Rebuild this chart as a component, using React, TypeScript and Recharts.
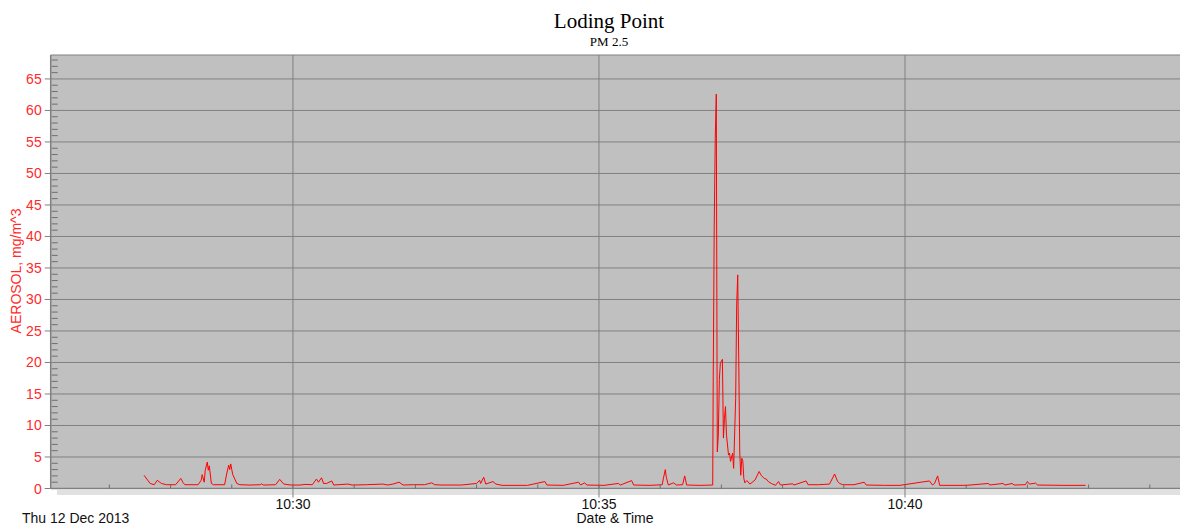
import React from 'react';
import {
  LineChart,
  Line,
  XAxis,
  YAxis,
  CartesianGrid,
} from 'recharts';

// Seconds after 10:00:00 for each logged sample
const sampleSec = [
  1654, 1660, 1664, 1667, 1671, 1676, 1685, 1690, 1692, 1694,
  1707, 1710, 1711, 1713, 1714, 1716, 1717, 1718, 1720, 1722,
  1733, 1735, 1737, 1738, 1739, 1740, 1741, 1745, 1748, 1758,
  1768, 1769, 1771, 1783, 1787, 1791, 1798, 1807, 1812, 1819,
  1823, 1825, 1828, 1830, 1833, 1838, 1840, 1854, 1858, 1872,
  1888, 1893, 1898, 1904, 1908, 1918, 1929, 1936, 1939, 1946,
  1965, 1980, 1983, 1984, 1987, 1989, 1996, 1999, 2005, 2030,
  2047, 2049, 2065, 2080, 2082, 2086, 2088, 2105, 2119, 2121,
  2132, 2134, 2150, 2162, 2163, 2165, 2166, 2168, 2173, 2176,
  2182, 2184, 2186, 2199, 2211.5, 2212, 2213, 2214, 2215, 2215.5,
  2216, 2217, 2218, 2219, 2221, 2222, 2223, 2224, 2225, 2227,
  2228, 2229, 2231, 2232, 2234, 2235, 2236, 2237, 2238, 2239,
  2240, 2241, 2242, 2243, 2245, 2248, 2253, 2257, 2259, 2262,
  2264, 2266, 2269, 2273, 2276, 2278, 2290, 2291, 2294, 2303,
  2305, 2315, 2326, 2331, 2334, 2336, 2339, 2350, 2360, 2362,
  2380, 2395, 2424, 2427, 2429, 2432, 2434, 2460, 2482, 2483,
  2496, 2498, 2505, 2507, 2518, 2520, 2522, 2528, 2530, 2555,
  2577,
];

// PM 2.5 aerosol concentration, mg/m^3
const aerosol = [
  2.1, 0.8, 0.6, 1.3, 0.8, 0.6, 0.6, 1.6, 1.0, 0.6,
  0.6, 1.3, 2.2, 1.0, 2.9, 4.2, 2.9, 3.6, 0.8, 0.6,
  0.6, 2.3, 3.7, 3.0, 3.9, 3.0, 2.2, 0.8, 0.6, 0.55,
  0.6, 0.75, 0.55, 0.6, 1.45, 0.7, 0.55, 0.55, 0.65, 0.6,
  1.5, 1.0, 1.7, 0.8, 0.8, 1.2, 0.55, 0.7, 0.55, 0.6,
  0.7, 0.55, 0.7, 1.0, 0.55, 0.6, 0.6, 0.9, 0.6, 0.55,
  0.55, 0.8, 1.3, 0.8, 1.8, 0.7, 1.1, 0.7, 0.5, 0.5,
  1.1, 0.55, 0.5, 1.0, 0.55, 0.9, 0.55, 0.5, 0.8, 0.55,
  1.25, 0.55, 0.5, 0.6, 1.5, 3.0, 1.8, 0.55, 0.9, 0.55,
  0.6, 2.0, 0.55, 0.5, 0.55, 17.7, 41.8, 55.6, 62.6, 34.2,
  5.8, 8.5, 17.3, 19.9, 20.5, 8.0, 11.1, 13.0, 8.5, 5.3,
  5.6, 4.3, 5.6, 3.2, 14.3, 29.1, 33.9, 20.7, 5.8, 2.1,
  4.8, 4.4, 1.6, 0.9, 1.25, 0.7, 1.35, 2.7, 2.1, 1.6,
  1.5, 1.1, 0.8, 0.5, 1.1, 0.55, 0.75, 0.55, 0.7, 1.2,
  0.6, 0.6, 0.7, 2.3, 1.1, 0.8, 0.6, 0.6, 1.0, 0.55,
  0.5, 0.5, 1.2, 0.55, 0.8, 2.0, 0.5, 0.5, 0.8, 0.55,
  0.8, 0.55, 0.8, 0.55, 0.6, 1.1, 0.7, 0.85, 0.55, 0.5,
  0.5,
];

// one tick per minute, 10:27 .. 10:44
const minuteTicks = [
  1620, 1680, 1740, 1800, 1860, 1920, 1980, 2040, 2100,
  2160, 2220, 2280, 2340, 2400, 2460, 2520, 2580, 2640,
];
const majorTimes = [1800, 2100, 2400];

const yMax = 68.8;
const yTicks = Array.from({ length: 69 }, (_, i) => i);
const yGrid = [5, 10, 15, 20, 25, 30, 35, 40, 45, 50, 55, 60, 65, yMax];

const data = sampleSec.map((t, i) => ({ t, value: aerosol[i] }));

const SANS = '"Liberation Sans", Arial, sans-serif';
const SERIF = '"Liberation Serif", "Times New Roman", serif';
const GRID = '#808080';

const timeLabel = (s: number) => {
  const m = Math.round(s / 60);
  return `10:${String(m).padStart(2, '0')}`;
};

const YTick = (props: any) => {
  const { x, y, payload } = props;
  const v = payload.value;
  if (v % 5 === 0) {
    return (
      <g>
        <line x1={x - 6} x2={x} y1={y} y2={y} stroke={GRID} />
        <text
          x={x - 9}
          y={y + 5}
          textAnchor="end"
          fontSize={14}
          fontFamily={SANS}
          fill="#ff2a2a"
        >
          {v}
        </text>
      </g>
    );
  }
  return <line x1={x + 1} x2={x + 7} y1={y} y2={y} stroke="#6e6e6e" />;
};

const XTick = (props: any) => {
  const { x, y, payload } = props;
  const s = payload.value;
  const major = s % 300 === 0;
  return (
    <g>
      <line x1={x} x2={x} y1={y - 4} y2={y} stroke="#6e6e6e" />
      {major && <line x1={x} x2={x} y1={y} y2={y + 9} stroke={GRID} />}
      {major && (
        <text
          x={x}
          y={y + 20}
          textAnchor="middle"
          fontSize={14}
          fontFamily={SANS}
          fill="#111"
        >
          {timeLabel(s)}
        </text>
      )}
    </g>
  );
};

export default function App() {
  return (
    <div
      style={{
        position: 'absolute',
        left: 0,
        top: 0,
        width: 1180,
        height: 530,
        overflow: 'hidden',
        background: '#fff',
      }}
    >
      {/* light strip under the time axis */}
      <div
        style={{
          position: 'absolute',
          left: 57,
          top: 490,
          width: 1123,
          height: 5,
          background: '#e1e1e1',
        }}
      />
      <div style={{ position: 'absolute', left: 0, top: 0 }}>
        <LineChart
          width={1180}
          height={530}
          data={data}
          margin={{ top: 55, right: 0, bottom: 0, left: 0 }}
        >
          <CartesianGrid
            fill="#c0c0c0"
            stroke={GRID}
            horizontalValues={yGrid}
            verticalValues={majorTimes}
          />
          <XAxis
            type="number"
            dataKey="t"
            domain={[1562.5, 2669.6]}
            allowDataOverflow
            ticks={minuteTicks}
            interval={0}
            height={41.5}
            tickSize={0}
            tickMargin={0}
            tickLine={false}
            axisLine={{ stroke: GRID, strokeWidth: 1.5 }}
            tick={XTick}
          />
          <YAxis
            type="number"
            domain={[0, yMax]}
            allowDataOverflow
            ticks={yTicks}
            interval={0}
            width={50.7}
            tickSize={0}
            tickMargin={0}
            tickLine={false}
            axisLine={{ stroke: GRID, strokeWidth: 1.5 }}
            tick={YTick}
          />
          <Line
            type="linear"
            dataKey="value"
            stroke="#ff0000"
            strokeWidth={1}
            dot={false}
            activeDot={false}
            isAnimationActive={false}
          />
        </LineChart>
      </div>
      <svg
        width={1180}
        height={530}
        style={{ position: 'absolute', left: 0, top: 0, pointerEvents: 'none' }}
      >
        <text x={609} y={28} textAnchor="middle" fontSize={21} fontFamily={SERIF} fill="#000">
          Loding Point
        </text>
        <text x={609} y={46} textAnchor="middle" fontSize={13} fontFamily={SERIF} fill="#000">
          PM 2.5
        </text>
        <text
          transform="translate(21,271) rotate(-90)"
          textAnchor="middle"
          fontSize={14}
          fontFamily={SANS}
          fill="#ff2a2a"
        >
          AEROSOL, mg/m^3
        </text>
        <text x={22} y={523} fontSize={14} fontFamily={SANS} fill="#111">
          Thu 12 Dec 2013
        </text>
        <text x={615} y={523} textAnchor="middle" fontSize={14} fontFamily={SANS} fill="#111">
          Date &amp; Time
        </text>
      </svg>
    </div>
  );
}
